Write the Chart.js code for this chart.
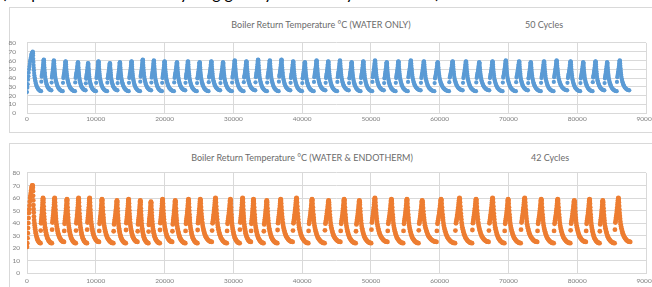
<!DOCTYPE html>
<html>
<head>
<meta charset="utf-8">
<script src="https://cdn.jsdelivr.net/npm/chart.js@4.4.1/dist/chart.umd.min.js"></script>
<style>
  html, body { margin: 0; padding: 0; background: #fff; width: 652px; height: 287px; overflow: hidden; position: relative; font-family: Lato, "Open Sans", sans-serif; }
  .frame { position: absolute; border: 1px solid #d9d9d9; box-sizing: border-box; }
  .ttl { position: absolute; color: #6b6b6b; font-size: 9px; white-space: nowrap; transform: translate(-50%, -50%); }
  .clip { position: absolute; left: 0; top: 0; width: 652px; height: 5px; overflow: hidden; }
  .clip span { display: block; margin-top: -15px; margin-left: 2px; font-size: 16px; line-height: 16px; color: #000; white-space: nowrap; }
  canvas { position: absolute; left: 0; }
</style>
</head>
<body>
<div class="clip"><span>(Graph shows the boiler cycling greatly reduced by Endotherm)</span></div>
<div class="frame" style="left:9px;top:7px;width:670px;height:126px"></div>
<div class="frame" style="left:9px;top:143px;width:670px;height:160px"></div>
<div class="ttl" style="left:321px;top:24px">Boiler Return Temperature °C (WATER ONLY)</div>
<div class="ttl" style="left:544px;top:24px">50 Cycles</div>
<div class="ttl" style="left:302px;top:157px">Boiler Return Temperature °C (WATER &amp; ENDOTHERM)</div>
<div class="ttl" style="left:550px;top:157px">42 Cycles</div>
<canvas id="water" width="672" height="100" style="top:28px"></canvas>
<canvas id="endo" width="672" height="125" style="top:162px"></canvas>
<script>
// axis ranges
const xMax = 90000;
const yMax = 80;

// WATER ONLY - peak of each cycle (x), peak temperature, lowest temperature
const waterPeakX = [830, 2440, 3900, 5610, 7410, 8880, 10390, 12050, 13500, 15200, 16830, 18440, 20000,
  21800, 23400, 25100, 26800, 28500, 30200, 31900, 33600, 35300, 37000, 38700, 40400, 42100, 43800,
  45500, 47200, 48900, 50600, 52300, 54000, 55800, 57700, 59710, 61880, 63820, 65750, 67680, 69610,
  71550, 73240, 75170, 77000, 79030, 80870, 82660, 84350, 86180];
const waterPeakY = [70, 61, 60, 59, 58, 57, 59, 57, 58, 59, 61, 60, 59, 58, 59, 58, 59, 58, 60, 59,
  61, 60, 61, 59, 58, 60, 59, 60, 58, 59, 60, 58, 59, 60, 59, 58, 59, 59, 58, 59,
  60, 59, 58, 59, 60, 59, 58, 59, 58, 60];
const waterLowY = [25, 26, 25, 25, 26, 25, 25, 26, 25, 25, 26, 25, 25, 26, 25, 25, 26, 25, 25, 26,
  25, 25, 26, 25, 25, 26, 25, 26, 25, 25, 26, 25, 25, 26, 25, 25, 26, 25, 26, 25,
  25, 26, 25, 25, 26, 25, 25, 26, 25, 26];
const waterFirstRise = [[0, 24], [50, 29], [100, 33], [150, 38], [200, 42], [250, 46], [300, 50], [350, 53],
  [400, 56], [450, 59], [500, 61], [550, 63], [600, 65], [650, 67], [700, 68], [760, 69]];

// WATER & ENDOTHERM
const endoPeakX = [814, 2330, 4020, 5810, 7500, 9100, 10900, 13080, 14770, 16470, 18020, 19710, 21550,
  23480, 25190, 27400, 29570, 31350, 32930, 34860, 36880, 39180, 41440, 43850, 46110, 48320, 50580,
  52980, 55240, 57450, 60200, 62880, 65290, 67690, 69950, 72360, 74760, 77160, 79570, 81790, 83710, 85980];
const endoPeakY = [70, 60, 60, 59, 60, 60, 59, 58, 59, 58, 57, 59, 58, 59, 59, 60, 59, 60, 59, 58,
  59, 60, 59, 58, 59, 58, 60, 59, 59, 58, 59, 60, 59, 60, 59, 60, 59, 59, 58, 59, 58, 60];
const endoLowY = [24, 24, 25, 24, 24, 25, 24, 24, 25, 24, 24, 25, 24, 24, 25, 24, 24, 25, 24, 24,
  25, 24, 24, 25, 24, 24, 25, 24, 24, 25, 24, 24, 25, 24, 24, 25, 24, 24, 25, 24, 24, 25];
const endoFirstRise = [[0, 21], [40, 24], [80, 28], [120, 32], [160, 36], [200, 40], [240, 44], [280, 48],
  [320, 51], [360, 54], [400, 57], [450, 60], [500, 62], [550, 64], [600, 66], [650, 68], [700, 69], [760, 70]];

// shape of one cycle: offset from the peak (share of the cycle)
// and level between the cycle low (0) and its peak (1)
const shapeDt = [-0.22, -0.19, -0.17, -0.155, -0.14, -0.125, -0.11, -0.095, -0.08, -0.065, -0.05, -0.035, -0.02, -0.01, 0,
  0.01, 0.02, 0.035, 0.05, 0.065, 0.08, 0.095, 0.11, 0.13, 0.15, 0.175, 0.20, 0.225, 0.25, 0.28, 0.31, 0.34,
  0.38, 0.42, 0.46, 0.50, 0.55, 0.60, 0.65, 0.70, 0.76];
const shapeLevel = [0.28, 0.44, 0.48, 0.52, 0.56, 0.60, 0.64, 0.69, 0.74, 0.79, 0.85, 0.90, 0.95, 0.98, 1.0,
  0.99, 0.96, 0.90, 0.82, 0.74, 0.66, 0.59, 0.53, 0.46, 0.40, 0.35, 0.31, 0.27, 0.24, 0.20, 0.17, 0.14,
  0.11, 0.09, 0.07, 0.05, 0.035, 0.02, 0.01, 0.005, 0.0];

function buildPoints(peakX, peakY, lowY, firstRise) {
  const pts = firstRise.map(p => ({ x: p[0], y: p[1] }));
  peakX.forEach((px, i) => {
    const next = i < peakX.length - 1 ? peakX[i + 1] : px + (px - peakX[i - 1]);
    const prev = i > 0 ? peakX[i - 1] : px;
    shapeDt.forEach((dt, k) => {
      if (dt < 0 && i === 0) return; // first cycle uses firstRise
      const period = dt < 0 ? px - prev : next - px;
      pts.push({ x: px + dt * period, y: lowY[i] + shapeLevel[k] * (peakY[i] - lowY[i]) });
    });
  });
  return pts;
}

const tickFont = { family: 'Lato, "Open Sans", sans-serif', size: 6.5 };

function makeChart(id, points, color, o) {
  return new Chart(document.getElementById(id), {
    type: 'scatter',
    data: {
      datasets: [{
        data: points,
        backgroundColor: color,
        pointRadius: o.r,
        pointBorderWidth: 0,
        pointHoverRadius: 0
      }]
    },
    options: {
      responsive: false,
      animation: false,
      events: [],
      layout: { padding: { top: o.padTop, right: 26, left: 0, bottom: 0 } },
      plugins: { legend: { display: false }, tooltip: { enabled: false } },
      scales: {
        x: {
          type: 'linear', min: 0, max: xMax,
          ticks: { stepSize: 10000, autoSkip: false, maxRotation: 0, color: '#7f7f7f', font: tickFont, padding: o.xPad, callback: v => String(v) },
          grid: { color: '#d9d9d9', drawTicks: false },
          border: { color: '#d9d9d9' },
          afterFit: s => { s.height = o.xH; }
        },
        y: {
          min: 0, max: yMax,
          ticks: { stepSize: 10, color: '#7f7f7f', font: tickFont, padding: o.yPad },
          grid: { color: '#d9d9d9', drawTicks: false },
          border: { display: false },
          afterFit: s => { s.width = 27; }
        }
      }
    }
  });
}

makeChart('water', buildPoints(waterPeakX, waterPeakY, waterLowY, waterFirstRise), '#5B9BD5',
  { padTop: 7, xH: 11, xPad: 2, yPad: 11, r: 2.1 });
makeChart('endo', buildPoints(endoPeakX, endoPeakY, endoLowY, endoFirstRise), '#ED7D31',
  { padTop: 7.3, xH: 13.7, xPad: 4, yPad: 7, r: 2.4 });
</script>
</body>
</html>
